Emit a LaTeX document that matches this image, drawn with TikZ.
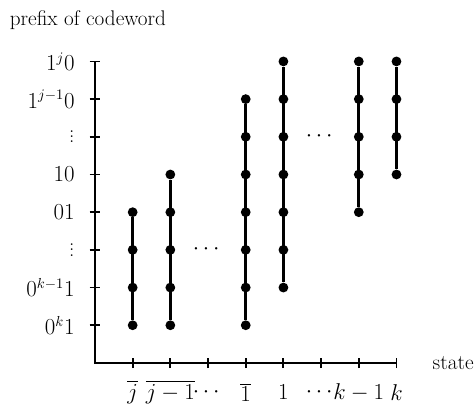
\documentclass[tikz,border=0pt]{standalone}
\usepackage{amsmath}
\usepackage{tikz}
\usetikzlibrary{positioning}

\newcommand{\shortvdots}{\vbox{\baselineskip4pt\lineskiplimit0pt\hbox{.}\hbox{.}\hbox{.}}}

\begin{document}
\begin{tikzpicture}[
  dot/.style={circle, fill, inner sep=0pt, minimum size=2.6mm},
  bar/.style={line width=2.2pt},
  axis/.style={line width=1.4pt},
  lbl/.style={font=\fontsize{16}{19}\selectfont, inner sep=1pt}
]
  \useasboundingbox (-2.52,-1.27) rectangle (10.11,9.63);
  % Axes
  \coordinate (o) at (0,0);
  \coordinate (ytop) at (0,8);
  \coordinate (xend) at (8,0);
  \draw[axis] (ytop) -- (o) -- (xend);
  % Ticks on both axes
  \foreach \i in {1,...,8} {
    \draw[axis] (\i,-0.14) -- (\i,0.14);
    \draw[axis] (-0.14,\i) -- (0.14,\i);
  }
  % Axis titles
  \node[lbl, anchor=west] (ytitle) at (-2.3,9.1) {prefix of codeword};
  \node[lbl, anchor=west] (xtitle) at (8.92,0) {state};
  % Prefix labels (y)
  \foreach \i/\t in {1/{0^k1}, 2/{0^{k-1}1}, 3/{\shortvdots}, 4/{01},
                     5/{10}, 6/{\shortvdots}, 7/{1^{j-1}0}, 8/{1^j0}}
    \node[lbl, anchor=east] (ly\i) at (-0.5,\i) {$\t$};
  % State labels (x)
  \foreach \i/\t in {1/{\overline{j}}, 2/{\overline{j-1}}, 3/{\cdots}, 4/{\overline{1}},
                     5/{1}, 6/{\cdots}, 7/{k-1}, 8/{k}}
    \node[lbl] (lx\i) at (\i,-0.78) {$\t$};
  % Columns of reachable prefixes
  \foreach \x/\lo/\hi in {1/1/4, 2/1/5, 4/1/7, 5/2/8, 7/4/8, 8/5/8} {
    \foreach \y in {\lo,...,\hi}
      \node[dot] (d\x-\y) at (\x,\y) {};
    \draw[bar] (d\x-\lo) -- (d\x-\hi);
  }
  % Gaps
  \node[lbl] (gap1) at (3,3) {$\cdots$};
  \node[lbl] (gap2) at (6,6) {$\cdots$};
\end{tikzpicture}
\end{document}
